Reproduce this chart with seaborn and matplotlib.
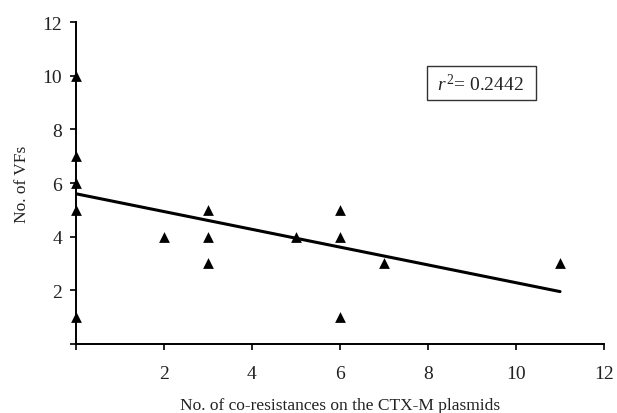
import numpy as np
import pandas as pd
import matplotlib
matplotlib.use("Agg")
import matplotlib.pyplot as plt
import seaborn as sns

# Data
co_resistances = [0, 0, 0, 0, 0, 2, 3, 3, 3, 5, 6, 6, 6, 7, 11]
num_vfs = [10, 7, 6, 5, 1, 4, 5, 4, 3, 4, 5, 4, 1, 3, 3]

# Fitted trend line end points (as drawn in the figure)
fit_x = [0, 11]
fit_y = [5.6, 1.95]
r_squared = 0.2442

tick_values = [0, 2, 4, 6, 8, 10, 12]
tick_labels = ["", "2", "4", "6", "8", "10", "12"]

sns.set_style("ticks")
plt.rcParams["font.family"] = ["Liberation Serif", "DejaVu Serif"]
plt.rcParams["mathtext.fontset"] = "custom"
plt.rcParams["mathtext.rm"] = "Liberation Serif"
plt.rcParams["mathtext.it"] = "Liberation Serif:italic"
plt.rcParams["text.color"] = "#222222"
plt.rcParams["axes.labelcolor"] = "#222222"

df = pd.DataFrame({"x": co_resistances, "y": num_vfs})
fit_df = pd.DataFrame({"x": fit_x, "y": fit_y})

fig = plt.figure(figsize=(6.17, 4.14), dpi=100)
ax = fig.add_axes([0.123, 0.167, 0.856, 0.777])

sns.lineplot(data=fit_df, x="x", y="y", color="black", linewidth=2.2, ax=ax)
sns.scatterplot(data=df, x="x", y="y", marker="^", color="black", s=60,
                edgecolor="black", linewidth=0, ax=ax, zorder=3, clip_on=False)

ax.set_xlim(0, 12)
ax.set_ylim(0, 12)
ax.set_xticks(tick_values)
ax.set_xticklabels(tick_labels)
ax.set_yticks(tick_values)
ax.set_yticklabels(tick_labels)
ax.tick_params(axis="both", direction="out", length=4, width=1.2,
               labelsize=14, color="black", labelcolor="#222222", pad=11)
ax.tick_params(axis="y", pad=6)

for side in ["top", "right"]:
    ax.spines[side].set_visible(False)
for side in ["left", "bottom"]:
    ax.spines[side].set_linewidth(1.4)
    ax.spines[side].set_color("black")

ax.set_xlabel("No. of co-resistances on the CTX-M plasmids", fontsize=12.5, labelpad=11)
ax.set_ylabel("No. of VFs", fontsize=12.5, labelpad=9)

ax.text(0.768, 0.81, r" $r^2$= " + f"{r_squared}  ", transform=ax.transAxes,
        fontsize=14, ha="center", va="center",
        bbox=dict(boxstyle="square,pad=0.33", facecolor="white",
                  edgecolor="#333333", linewidth=1.0))

fig.savefig("out.png", dpi=100)
